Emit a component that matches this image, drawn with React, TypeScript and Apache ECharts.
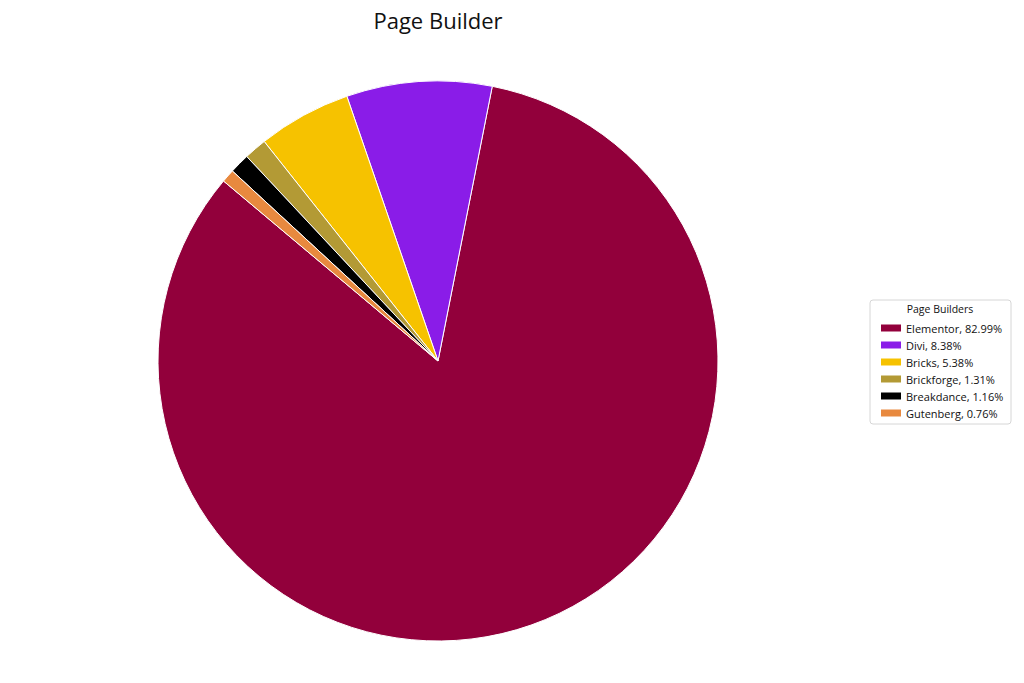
import React, { useEffect, useRef } from "react";
import * as echarts from "echarts";

const categories = ["Elementor", "Divi", "Bricks", "Brickforge", "Breakdance", "Gutenberg"];
const shares = [82.99, 8.38, 5.38, 1.31, 1.16, 0.76];
const colors = ["#92003B", "#8A1CE8", "#F6C200", "#B39A35", "#000000", "#E8893F"];

export default function App() {
  const ref = useRef<HTMLDivElement>(null);
  useEffect(() => {
    document.body.style.margin = "0";
    const chart = echarts.init(ref.current!, null, { renderer: "svg" });
    const font = "'Open Sans', Roboto, sans-serif";
    chart.setOption({
      animation: false,
      backgroundColor: "#ffffff",
      graphic: [
        {
          type: "text",
          x: 438,
          y: 9,
          style: {
            text: "Page Builder",
            fontFamily: font,
            fontSize: 22,
            fill: "#111",
            textAlign: "center",
          },
          z: 10,
        },
        {
          type: "rect",
          shape: { x: 870, y: 300, width: 141, height: 124, r: 3 },
          style: { fill: "#fff", stroke: "#d6d6d6", lineWidth: 1 },
          z: 0,
        },
        {
          type: "text",
          x: 940,
          y: 303,
          style: {
            text: "Page Builders",
            fontFamily: font,
            fontSize: 10.5,
            fill: "#111",
            textAlign: "center",
          },
          z: 10,
        },
      ],
      legend: {
        orient: "vertical",
        left: 876,
        top: 317,
        itemWidth: 20,
        itemHeight: 7,
        itemGap: 5,
        itemStyle: { borderWidth: 0 },
        icon: "rect",
        data: categories,
        textStyle: { fontFamily: font, fontSize: 11, color: "#111", lineHeight: 12 },
        formatter: (name: string) => {
          const i = categories.indexOf(name);
          return `${name}, ${shares[i].toFixed(2)}%`;
        },
        z: 10,
      },
      series: [
        {
          type: "pie",
          center: [438, 361],
          radius: 280,
          startAngle: 140,
          clockwise: false,
          label: { show: false },
          labelLine: { show: false },
          emphasis: { disabled: true },
          itemStyle: { borderColor: "#ffffff", borderWidth: 1 },
          data: categories.map((c, i) => ({
            name: c,
            value: shares[i],
            itemStyle: { color: colors[i] },
          })),
        },
      ],
    });
    return () => chart.dispose();
  }, []);
  return (
    <div
      ref={ref}
      style={{ width: 1024, height: 683, position: "fixed", left: 0, top: 0 }}
    />
  );
}
